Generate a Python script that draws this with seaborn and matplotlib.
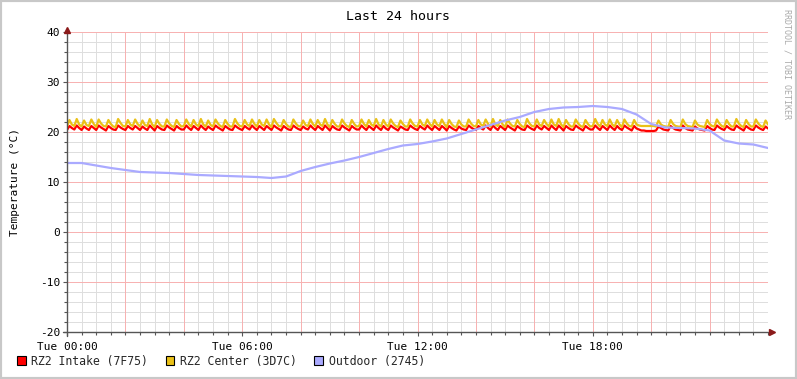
import numpy as np
import pandas as pd
import matplotlib
matplotlib.use("Agg")
import matplotlib.pyplot as plt
from matplotlib.patches import Patch, Rectangle
from matplotlib.ticker import MultipleLocator
import seaborn as sns

# ---------------- data ----------------
title = "Last 24 hours"
y_label = "Temperature (°C)"
series_names = ["RZ2 Intake (7F75)", "RZ2 Center (3D7C)", "Outdoor (2745)"]
series_colors = ["#FF0000", "#EAC117", "#AAAAFF"]
x_tick_hours = [0, 6, 12, 18]
x_tick_labels = ["Tue 00:00", "Tue 06:00", "Tue 12:00", "Tue 18:00"]
y_ticks = [-20, -10, 0, 10, 20, 30, 40]

sample_minutes = 5  # indoor sensors, one value per 5 minutes

intake = [
    20.4, 21.2, 20.8, 20.5, 21.3, 20.8, 20.4, 21.1, 20.7, 20.4, 21.2, 20.8,
    20.4, 21.3, 20.9, 20.6, 20.3, 21.2, 20.8, 20.5, 20.4, 21.3, 20.9, 20.6,
    20.4, 21.2, 20.8, 20.5, 21.2, 20.8, 20.4, 21.1, 20.7, 20.4, 21.3, 20.8,
    20.3, 21.2, 20.8, 20.5, 20.4, 21.3, 20.9, 20.6, 20.3, 21.2, 20.8, 20.5,
    20.5, 21.3, 20.8, 20.4, 21.2, 20.8, 20.4, 21.3, 20.8, 20.4, 21.1, 20.7,
    20.4, 21.3, 20.9, 20.6, 20.3, 21.2, 20.8, 20.5, 20.4, 21.3, 20.9, 20.6,
    20.4, 21.2, 20.8, 20.5, 21.3, 20.8, 20.4, 21.2, 20.8, 20.4, 21.2, 20.8,
    20.4, 21.3, 20.9, 20.6, 20.3, 21.2, 20.8, 20.5, 20.4, 21.3, 20.9, 20.6,
    20.4, 21.1, 20.7, 20.5, 21.3, 20.8, 20.4, 21.2, 20.8, 20.4, 21.3, 20.8,
    20.3, 21.2, 20.8, 20.5, 20.4, 21.3, 20.9, 20.6, 20.3, 21.2, 20.8, 20.5,
    20.5, 21.3, 20.8, 20.4, 21.2, 20.8, 20.4, 21.3, 20.8, 20.4, 21.2, 20.7,
    20.4, 21.3, 20.9, 20.6, 20.3, 21.1, 20.8, 20.5, 20.4, 21.3, 20.9, 20.6,
    20.4, 21.2, 20.8, 20.5, 21.3, 20.8, 20.4, 21.2, 20.8, 20.4, 21.2, 20.8,
    20.3, 21.2, 20.8, 20.5, 20.3, 21.1, 20.7, 20.5, 20.4, 21.3, 20.9, 20.6,
    20.4, 21.2, 20.8, 20.5, 21.3, 20.8, 20.4, 21.3, 20.8, 20.4, 21.2, 20.8,
    20.4, 21.3, 20.9, 20.6, 20.3, 21.2, 20.8, 20.5, 20.4, 21.3, 20.9, 20.6,
    20.4, 21.3, 20.8, 20.5, 21.2, 20.8, 20.4, 21.3, 20.8, 20.4, 21.3, 20.8,
    20.3, 21.2, 20.8, 20.5, 20.4, 21.3, 20.9, 20.6, 20.3, 21.2, 20.8, 20.5,
    20.5, 21.3, 20.8, 20.4, 21.2, 20.8, 20.4, 21.3, 20.8, 20.4, 21.2, 20.7,
    20.4, 21.3, 20.9, 20.6, 20.3, 21.2, 20.7, 20.5, 20.3, 20.3, 20.2, 20.2,
    20.2, 20.2, 20.3, 21.1, 20.8, 20.5, 20.4, 20.3, 21.2, 20.8, 20.5, 20.4,
    20.3, 21.3, 20.8, 20.5, 20.4, 20.3, 21.1, 20.7, 20.5, 20.4, 20.3, 21.2,
    20.8, 20.5, 20.4, 21.3, 20.9, 20.6, 20.4, 21.2, 20.8, 20.5, 20.4, 21.3,
    20.9, 20.6, 20.3, 21.2, 20.8, 20.5, 20.4, 21.3, 20.9, 20.6, 20.4, 21.1,
    20.7,
]

center = [
    21.1, 22.4, 21.5, 21.2, 22.6, 21.5, 21.1, 22.3, 21.4, 21.2, 22.5, 21.6,
    21.0, 22.5, 21.7, 21.2, 21.1, 22.4, 21.6, 21.1, 21.0, 22.6, 21.8, 21.2,
    21.1, 22.4, 21.5, 21.2, 22.5, 21.6, 21.1, 22.3, 21.4, 21.2, 22.6, 21.5,
    21.0, 22.4, 21.6, 21.1, 21.1, 22.5, 21.7, 21.2, 21.0, 22.4, 21.6, 21.1,
    21.2, 22.5, 21.6, 21.1, 22.4, 21.5, 21.2, 22.6, 21.5, 21.1, 22.3, 21.4,
    21.1, 22.5, 21.7, 21.2, 21.0, 22.4, 21.6, 21.1, 21.1, 22.6, 21.7, 21.2,
    21.1, 22.4, 21.5, 21.2, 22.5, 21.6, 21.1, 22.4, 21.5, 21.2, 22.5, 21.5,
    21.0, 22.6, 21.8, 21.2, 21.1, 22.4, 21.6, 21.1, 21.0, 22.5, 21.7, 21.2,
    21.1, 22.3, 21.4, 21.2, 22.5, 21.6, 21.1, 22.4, 21.5, 21.2, 22.6, 21.5,
    21.0, 22.4, 21.6, 21.1, 21.1, 22.5, 21.7, 21.2, 21.0, 22.4, 21.6, 21.1,
    21.2, 22.5, 21.6, 21.1, 22.4, 21.5, 21.2, 22.6, 21.5, 21.1, 22.4, 21.5,
    21.1, 22.5, 21.7, 21.2, 21.0, 22.3, 21.6, 21.1, 21.1, 22.5, 21.7, 21.2,
    21.1, 22.4, 21.5, 21.2, 22.5, 21.6, 21.1, 22.4, 21.5, 21.2, 22.5, 21.6,
    21.0, 22.4, 21.6, 21.1, 21.0, 22.3, 21.5, 21.1, 21.1, 22.5, 21.7, 21.2,
    21.1, 22.4, 21.5, 21.2, 22.5, 21.6, 21.1, 22.6, 21.5, 21.2, 22.4, 21.5,
    21.0, 22.5, 21.7, 21.2, 21.1, 22.4, 21.6, 21.1, 21.0, 22.6, 21.7, 21.2,
    21.1, 22.5, 21.5, 21.2, 22.4, 21.6, 21.1, 22.5, 21.5, 21.2, 22.6, 21.5,
    21.0, 22.4, 21.6, 21.1, 21.1, 22.5, 21.7, 21.2, 21.0, 22.4, 21.6, 21.1,
    21.2, 22.6, 21.6, 21.1, 22.4, 21.5, 21.2, 22.5, 21.5, 21.1, 22.4, 21.5,
    21.0, 22.5, 21.7, 21.2, 21.1, 22.4, 21.5, 21.3, 21.2, 21.2, 21.2, 21.2,
    21.2, 21.2, 21.1, 22.3, 21.5, 21.2, 21.1, 21.0, 22.4, 21.6, 21.2, 21.1,
    21.0, 22.5, 21.6, 21.2, 21.1, 21.0, 22.3, 21.5, 21.2, 21.1, 21.0, 22.4,
    21.6, 21.2, 21.1, 22.5, 21.7, 21.2, 21.0, 22.4, 21.6, 21.1, 21.1, 22.6,
    21.7, 21.2, 21.0, 22.4, 21.6, 21.1, 21.1, 22.5, 21.7, 21.2, 21.0, 22.3,
    21.5,
]

outdoor_step_hours = 0.5
outdoor = [
    13.8, 13.8, 13.3, 12.8, 12.4, 12.0, 11.9, 11.8, 11.6, 11.4,
    11.3, 11.2, 11.1, 11.0, 10.8, 11.1, 12.2, 13.0, 13.7, 14.3,
    15.0, 15.8, 16.6, 17.3, 17.6, 18.1, 18.7, 19.6, 20.5, 21.4,
    22.3, 23.0, 24.0, 24.6, 24.9, 25.0, 25.2, 25.0, 24.6, 23.5,
    21.6, 20.9, 20.8, 20.7, 20.3, 18.3, 17.7, 17.5, 16.8,
]

# ---------------- tables ----------------
indoor_hours = np.arange(len(intake)) * sample_minutes / 60.0
outdoor_hours = np.arange(len(outdoor)) * outdoor_step_hours
df = pd.concat([
    pd.DataFrame({"hour": indoor_hours, "temp": intake, "series": series_names[0]}),
    pd.DataFrame({"hour": indoor_hours, "temp": center, "series": series_names[1]}),
    pd.DataFrame({"hour": outdoor_hours, "temp": outdoor, "series": series_names[2]}),
], ignore_index=True)

# ---------------- figure ----------------
sns.set_theme(style="white")
plt.rcParams["font.family"] = ["DejaVu Sans Mono", "DejaVu Sans"]

W, H = 797, 379
fig = plt.figure(figsize=(W / 100, H / 100), dpi=100, facecolor="white")
ax = fig.add_axes([67 / W, 1 - 332 / H, (768 - 67) / W, 300 / H])
ax.set_facecolor("white")

ax.set_xlim(0, 24)
ax.set_ylim(-20, 40)

# grid
ax.xaxis.set_minor_locator(MultipleLocator(0.5))
ax.yaxis.set_minor_locator(MultipleLocator(2))
ax.set_xticks(x_tick_hours)
ax.set_yticks(y_ticks)
minor_col = "#DEDEDE"
major_col = "#F7B2B2"
for v in np.arange(0.5, 24, 0.5):
    if v % 2 != 0:
        ax.axvline(v, color=minor_col, lw=0.72, zorder=0, antialiased=False)
for v in np.arange(-18, 40, 2):
    if v % 10 != 0:
        ax.axhline(v, color=minor_col, lw=0.72, zorder=0, antialiased=False)
for v in np.arange(2, 24, 2):
    ax.axvline(v, color=major_col, lw=0.72, zorder=0.5, antialiased=False)
for v in y_ticks[1:]:
    ax.axhline(v, color=major_col, lw=0.72, zorder=0.5, antialiased=False)

sns.lineplot(data=df, x="hour", y="temp", hue="series", palette=series_colors,
             hue_order=series_names, linewidth=1.6, legend=False, ax=ax,
             estimator=None, sort=False, zorder=3)

# spines / axes with arrows
for s in ax.spines.values():
    s.set_visible(False)
axis_col = "#555555"
ax.plot([0, 0], [-0.012, 1.0], transform=ax.transAxes, color=axis_col, lw=1.0,
        clip_on=False, zorder=4)
ax.plot([-0.006, 1.0], [0, 0], transform=ax.transAxes, color=axis_col, lw=1.0,
        clip_on=False, zorder=4)
ax.plot([0], [1.006], marker="^", markersize=4.5, color="#8B1A1A",
        transform=ax.transAxes, clip_on=False, zorder=5)
ax.plot([1.006], [0], marker=">", markersize=4.5, color="#8B1A1A",
        transform=ax.transAxes, clip_on=False, zorder=5)

ax.set_xticklabels(x_tick_labels)
ax.set_yticklabels([str(v) for v in y_ticks])
ax.tick_params(axis="both", which="major", length=3, width=0.8, color=axis_col,
               labelsize=8, labelcolor="black", pad=2, direction="out")
ax.tick_params(axis="both", which="minor", length=2, width=0.8, color=axis_col,
               direction="out")
ax.tick_params(axis="x", which="major", pad=4)
ax.tick_params(bottom=True, left=True, which="both")
ax.set_xlabel("")
ax.set_ylabel("")

# texts
fig.text(398 / W, 1 - 16 / H, title, ha="center", va="center", fontsize=9.5,
         color="black")
fig.text(15 / W, 1 - 182 / H, y_label, ha="center", va="center", rotation=90,
         fontsize=8, color="black")
fig.text(787 / W, 1 - 64 / H, "RRDTOOL / TOBI OETIKER", ha="center", va="center",
         rotation=270, fontsize=6, color="#AAAAAA")

# legend
handles = [Patch(facecolor=c, edgecolor="black", linewidth=0.8) for c in series_colors]
fig.legend(handles, series_names, loc="center left",
           bbox_to_anchor=(17 / W, 1 - 361 / H), ncol=3, frameon=False,
           fontsize=8.3, handlelength=0.75, handleheight=0.75, handletextpad=0.5,
           columnspacing=1.5, borderpad=0, borderaxespad=0)

# outer border
fig.patches.append(Rectangle((0, 0), 1, 1, transform=fig.transFigure, fill=False,
                             edgecolor="#C8C8C8", lw=3, zorder=10))

fig.savefig("out.png", dpi=100, facecolor="white")
